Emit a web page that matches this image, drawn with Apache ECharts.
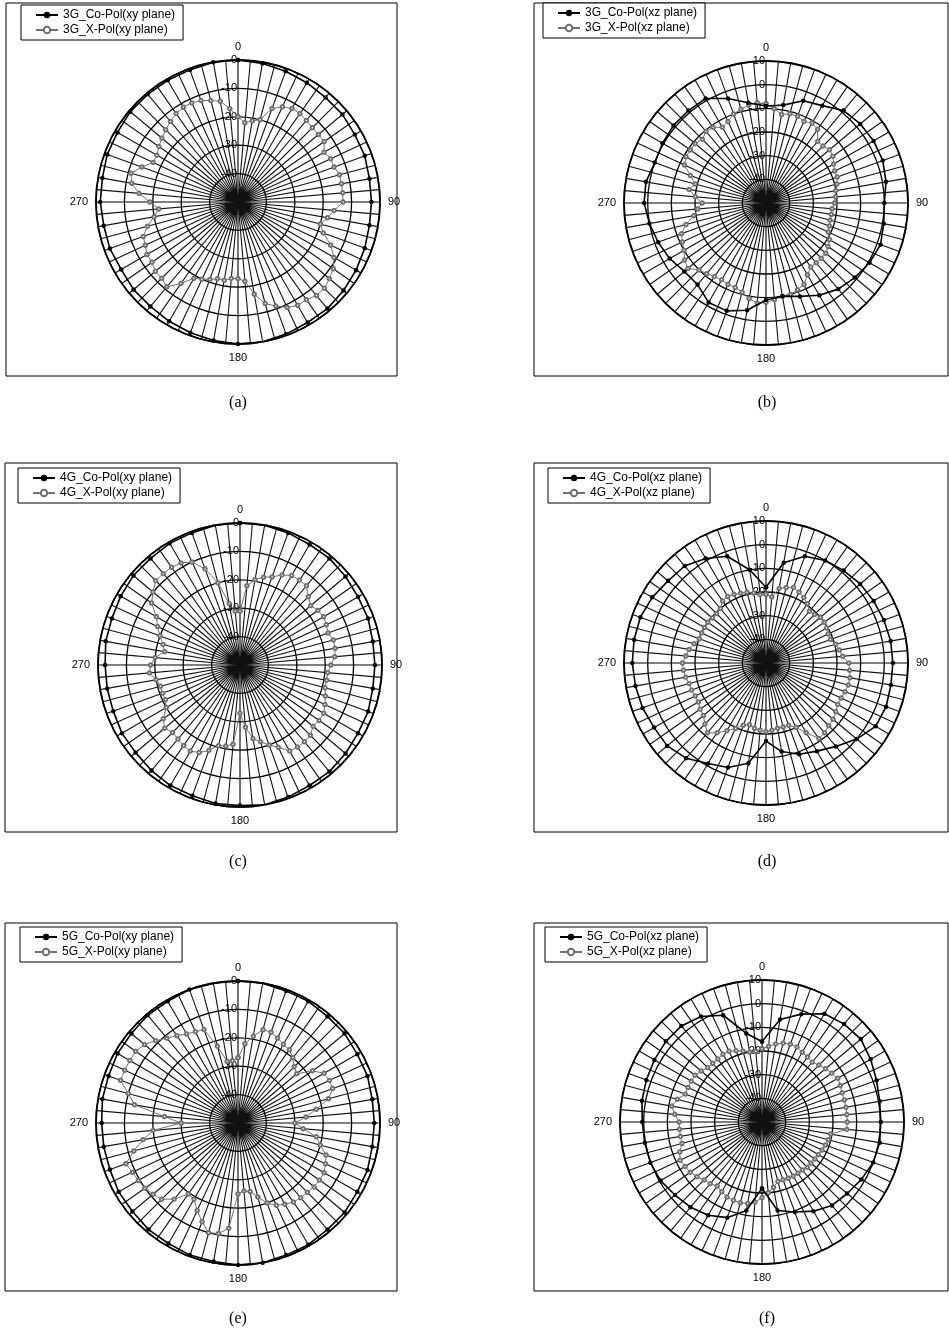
<!DOCTYPE html>
<html>
<head>
<meta charset="utf-8">
<script src="https://cdn.jsdelivr.net/npm/echarts@6/dist/echarts.min.js"></script>
<style>
html,body{margin:0;padding:0;background:#fff;}
#chart{width:949px;height:1331px;}
</style>
</head>
<body>
<div id="chart"></div>
<script>
// ---- angle categories (degrees) ----
const ANG10 = [0,10,20,30,40,50,60,70,80,90,100,110,120,130,140,150,160,170,180,190,200,210,220,230,240,250,260,270,280,290,300,310,320,330,340,350];
const ANG5 = [0,5,10,15,20,25,30,35,40,45,50,55,60,65,70,75,80,85,90,95,100,105,110,115,120,125,130,135,140,145,150,155,160,165,170,175,180,185,190,195,200,205,210,215,220,225,230,235,240,245,250,255,260,265,270,275,280,285,290,295,300,305,310,315,320,325,330,335,340,345,350,355];

// ---- radial tick labels ----
const TICKS_XY = [0,-10,-20,-30,-40];
const TICKS_XZ = [10,0,-10,-20,-30,-40];

// ---- series names ----
const NAMES = [
  ['3G_Co-Pol(xy plane)','3G_X-Pol(xy plane)'],
  ['3G_Co-Pol(xz plane)','3G_X-Pol(xz plane)'],
  ['4G_Co-Pol(xy plane)','4G_X-Pol(xy plane)'],
  ['4G_Co-Pol(xz plane)','4G_X-Pol(xz plane)'],
  ['5G_Co-Pol(xy plane)','5G_X-Pol(xy plane)'],
  ['5G_Co-Pol(xz plane)','5G_X-Pol(xz plane)']
];
const CAPTIONS = ['(a)','(b)','(c)','(d)','(e)','(f)'];

// ---- data (dB), Co-Pol every 10 deg, X-Pol every 5 deg ----
const co3xy = [0,-0.5,-1,-1.5,-2,-2,-2.5,-2.5,-3,-3,-3,-2.5,-2,-1.5,-1,-1,-0.5,0,0,-0.5,-1,-1.5,-2,-2,-2.5,-2,-2,-1.5,-1.5,-1,-1,-0.5,-0.5,-0.5,-0.5,0];
const x3xy = [-20,-22,-21,-20,-15,-13,-12,-12,-12.5,-13,-13,-13,-15,-14,-14,-13,-13,-13,-13,-16,-18,-20,-18,-14,-11,-9,-8,-7,-7,-8,-8,-9,-11,-13,-17,-22,-23,-23,-22,-22,-21,-20,-19,-15,-11,-12,-12,-13,-13,-14,-14.5,-17,-20,-22,-19,-15,-12,-11,-14,-17,-17,-16,-15,-14,-13,-12,-11.5,-11.5,-12,-13,-14,-17];

const co3xz = [-9,-8,-4,-2.5,1,2,2.5,2.5,1.5,0,0.5,1.5,0.5,-1,-2.5,-5,-8,-10,-9,-4,-1.5,-1.5,-5,-5,-3,-1.5,0,1.5,1.5,0,0.5,1,1,1,-3,-7];
const x3xz = [-8,-10,-12,-11,-11,-12,-11,-12,-16,-16,-15,-15.5,-17,-18,-18,-19,-20,-20.5,-21,-22,-22,-22,-21.5,-21,-19,-18,-17,-17,-17,-17,-15,-12,-11,-10,-10,-9,-8,-7.5,-9,-11,-12,-12,-12.5,-12,-11,-10,-7,-8,-10,-11,-12,-15,-19,-21,-23,-20,-17,-19,-16,-12,-11,-11,-11,-12,-10.5,-11,-13,-12,-10,-9,-8,-7.5];

const co4xy = [0,0,-0.5,-1,-1,-1.5,-2,-2,-2.5,-2.5,-2.5,-2,-2,-1.5,-1,-1,-0.5,0,-0.5,-0.5,-1,-1,-1.5,-2,-2,-2.5,-2.5,-2.5,-2,-2,-1.5,-1,-1,-0.5,-0.5,0];
const x4xy = [-31,-22,-19.5,-18,-17,-15,-13.6,-13.5,-13.6,-16,-17.5,-16.5,-16,-16.5,-17,-16,-16,-16.5,-18,-19,-19,-19,-18,-17,-16,-16,-16.4,-15,-14.7,-14.7,-15,-18,-20,-22,-23.6,-28,-33,-22,-21,-20.6,-18,-16,-15,-15.4,-16,-16.4,-15.4,-17,-20,-21,-21,-21,-20,-18,-18.5,-20,-23,-22,-20,-18,-16,-12,-10,-8,-8,-8,-8.5,-10,-14,-20,-28,-31];

const co4xz = [-18,-7,-2,0,1,2,2.5,3,3.5,3.6,3.6,4,3.5,0,-4,-7,-9,-12,-17,-7,-3,-1,2.5,4.5,4.6,5.5,6,6.5,6.6,6.5,5.5,4,3.5,1,-2,-10];
const x4xz = [-21,-22,-18,-17,-16,-17,-18,-19.5,-21.5,-21,-20,-20,-20.5,-21,-21,-19.5,-18.5,-17.5,-15,-14.5,-14,-14,-14.5,-15,-15,-14,-13,-12.5,-11.5,-11,-16,-20,-22,-22,-22,-21.5,-21,-21.5,-22,-23,-22,-19.5,-17,-14,-11.5,-13.5,-15.5,-16,-17,-17,-16.5,-16.4,-15.5,-15,-14.7,-16,-17,-18.5,-20,-20,-20,-20,-20.5,-20.5,-20,-18,-17.6,-18,-18.6,-19,-20,-21];

const co5xy = [0,0,-0.5,-0.5,-1,-1,-1.5,-1.5,-2,-2,-2,-1.5,-1.5,-1,-1,-0.5,-0.5,0,0,-0.5,-0.5,-1,-1,-1.5,-1.5,-2,-2,-2,-1.5,-1.5,-1,-1,-0.5,-0.5,0,0];
const x5xy = [-27,-22,-19,-16,-16,-17,-18,-18.5,-20,-22,-23,-18,-15,-14.5,-14.5,-17,-22,-26,-30,-27,-22,-20,-17,-16,-15,-15,-15,-15.5,-15.6,-16,-17,-18,-20,-23,-25.5,-26,-25,-12.8,-10.5,-10,-13,-16,-19,-19.5,-15,-12,-11,-10,-9.5,-9,-8,-12,-16,-20,-30,-24,-13,-10,-6,-6,-6,-6,-7,-9,-11,-12.5,-13.8,-14.5,-15,-22,-28,-28];

const co5xz = [-16,-6,-1.5,2.8,4,4.5,3,1.5,0.5,0.2,0.5,0,-1.5,-3,-4,-6.5,-9.5,-12,-22,-12,-7,-4.5,-3,-2,-0.5,0.2,0.3,0.6,1.5,2,2.5,3,3,1.5,-2,-12];
const x5xz = [-19,-18,-16.5,-15.5,-15,-15,-16,-16.5,-17,-16,-15,-14,-13,-13.5,-14,-14,-14,-14,-14,-14,-20.5,-21,-21.5,-22,-22.5,-22.7,-23,-23,-23.5,-23.5,-23.6,-23.8,-24,-24,-22,-20,-18,-16,-15,-14.7,-14.8,-15,-16,-17,-16,-15.4,-14,-13,-12.5,-11.8,-13,-15,-15,-15,-15,-13,-11.3,-13,-15.5,-15.5,-15.5,-15.5,-16.5,-17.5,-17.6,-17.5,-17,-17,-18,-19,-20,-20];

const CO = [co3xy, co3xz, co4xy, co4xz, co5xy, co5xz];
const XP = [x3xy, x3xz, x4xy, x4xz, x5xy, x5xz];
const IS_XZ = [false,true,false,true,false,true];

// ---- layout ----
const CENTERS = [[238,202],[766,203],[240,665],[766,663],[238,1123],[762,1122]];
const RADIUS = 142;
const BOXES = [[6,3,391,373],[534,3,414,373],[5,463,392,369],[534,463,414,369],[5,923,392,368],[534,923,414,368]];
const LEGPOS = [[21,5],[543,3],[18,468],[548,468],[20,927],[545,927]];
const CAPPOS = [[238,403],[767,403],[238,862],[767,862],[238,1319],[767,1319]];

function pairs(vals, angs){
  const out = vals.map((v,i)=>[v, angs[i]]);
  out.push([vals[0], 360]);
  return out;
}

const FONT = 'Liberation Sans';
const polar = [], angleAxis = [], radiusAxis = [], series = [], legend = [], graphic = [];

for (let i=0;i<6;i++){
  polar.push({center: CENTERS[i], radius: RADIUS});
  angleAxis.push({
    polarIndex: i, type: 'value', min: 0, max: 360, interval: 90,
    startAngle: 90, clockwise: true,
    axisLine: {show: true, lineStyle: {color: '#000', width: 1.8}},
    axisTick: {show: false},
    axisLabel: {show: true, margin: 8, color: '#000', fontSize: 11, fontFamily: FONT,
      formatter: v => (v===360 ? '' : String(v))},
    splitLine: {show: true, lineStyle: {color: '#000', width: 1.1}},
    minorTick: {show: false, splitNumber: 18},
    minorSplitLine: {show: true, lineStyle: {color: '#111', width: 1.1}}
  });
  const ticks = IS_XZ[i] ? TICKS_XZ : TICKS_XY;
  radiusAxis.push({
    polarIndex: i, type: 'value', min: -50, max: ticks[0], interval: 10,
    axisLine: {show: false}, axisTick: {show: false},
    axisLabel: {show: true, showMinLabel: false, color: '#000', fontSize: 11, fontFamily: FONT, margin: 1,
      formatter: v => (ticks.indexOf(v) >= 0 ? String(v) : '')},
    splitLine: {show: true, lineStyle: {color: '#000', width: 1.3}}
  });
  series.push({
    name: NAMES[i][1], type: 'line', coordinateSystem: 'polar', polarIndex: i,
    data: pairs(XP[i], ANG5), showAllSymbol: true,
    symbol: 'emptyCircle', symbolSize: 3.5,
    color: '#707070',
    lineStyle: {color: '#707070', width: 1},
    itemStyle: {color: '#707070', borderWidth: 0.9},
    z: 3, animation: false
  });
  series.push({
    name: NAMES[i][0], type: 'line', coordinateSystem: 'polar', polarIndex: i,
    data: pairs(CO[i], ANG10), showAllSymbol: true,
    symbol: 'circle', symbolSize: 4.5,
    color: '#000',
    lineStyle: {color: '#000', width: 1.6},
    itemStyle: {color: '#000'},
    z: 4, animation: false
  });
  legend.push({
    data: [NAMES[i][0], NAMES[i][1]],
    orient: 'vertical', left: LEGPOS[i][0], top: LEGPOS[i][1],
    backgroundColor: '#fff', borderColor: '#000', borderWidth: 1,
    padding: [4, 8, 4, 14], itemGap: 3, itemWidth: 22, itemHeight: 8,
    textStyle: {fontSize: 12, color: '#000', fontFamily: FONT},
    selectedMode: false
  });
  const b = BOXES[i];
  graphic.push({type: 'rect', shape: {x: b[0], y: b[1], width: b[2], height: b[3]},
    style: {fill: 'none', stroke: '#000', lineWidth: 1}, z: 0, silent: true});
  graphic.push({type: 'text', x: CAPPOS[i][0], y: CAPPOS[i][1],
    style: {text: CAPTIONS[i], fontSize: 16, fontFamily: 'Liberation Serif', fill: '#000',
      textAlign: 'center', textVerticalAlign: 'middle'}, z: 10, silent: true});
}

const chart = echarts.init(document.getElementById('chart'), null, {renderer: 'canvas'});
chart.setOption({
  backgroundColor: '#fff',
  animation: false,
  polar, angleAxis, radiusAxis, series, legend, graphic
});
</script>
</body>
</html>
